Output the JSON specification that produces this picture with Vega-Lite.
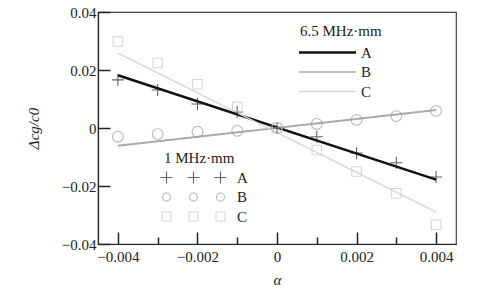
{
  "$schema": "https://vega.github.io/schema/vega-lite/v6.json",
  "width": 358,
  "height": 232,
  "autosize": "none",
  "padding": {"left": 98, "top": 12, "right": 29, "bottom": 50},
  "background": "white",
  "config": {
    "view": {"stroke": "#444", "strokeWidth": 1.2},
    "font": "Liberation Serif",
    "axis": {
      "labelFont": "Liberation Serif",
      "titleFont": "Liberation Serif",
      "labelFontSize": 15,
      "titleFontSize": 15,
      "titleFontWeight": "normal",
      "labelColor": "#222",
      "titleColor": "#222",
      "domainColor": "#222",
      "domainWidth": 1.2,
      "tickColor": "#222",
      "tickWidth": 1.5,
      "grid": false
    },
    "legend": {
      "labelFont": "Liberation Serif",
      "titleFont": "Liberation Serif",
      "labelFontSize": 15,
      "titleFontSize": 15,
      "titleFontWeight": "normal",
      "labelColor": "#222",
      "titleColor": "#222",
      "padding": 0
    }
  },
  "datasets": {
    "pts": [
      {"alpha": -0.004, "value": 0.0166, "series": "A"},
      {"alpha": -0.003, "value": 0.0131, "series": "A"},
      {"alpha": -0.002, "value": 0.0083, "series": "A"},
      {"alpha": -0.001, "value": 0.0055, "series": "A"},
      {"alpha": 0.0, "value": 0.0, "series": "A"},
      {"alpha": 0.001, "value": -0.003, "series": "A"},
      {"alpha": 0.002, "value": -0.0086, "series": "A"},
      {"alpha": 0.003, "value": -0.012, "series": "A"},
      {"alpha": 0.004, "value": -0.0169, "series": "A"},
      {"alpha": -0.004, "value": -0.003, "series": "B"},
      {"alpha": -0.003, "value": -0.0021, "series": "B"},
      {"alpha": -0.002, "value": -0.0013, "series": "B"},
      {"alpha": -0.001, "value": -0.001, "series": "B"},
      {"alpha": 0.0, "value": 0.0, "series": "B"},
      {"alpha": 0.001, "value": 0.0014, "series": "B"},
      {"alpha": 0.002, "value": 0.0028, "series": "B"},
      {"alpha": 0.003, "value": 0.0041, "series": "B"},
      {"alpha": 0.004, "value": 0.0059, "series": "B"},
      {"alpha": -0.004, "value": 0.0298, "series": "C"},
      {"alpha": -0.003, "value": 0.0224, "series": "C"},
      {"alpha": -0.002, "value": 0.0151, "series": "C"},
      {"alpha": -0.001, "value": 0.0073, "series": "C"},
      {"alpha": 0.0, "value": 0.0, "series": "C"},
      {"alpha": 0.001, "value": -0.0076, "series": "C"},
      {"alpha": 0.002, "value": -0.015, "series": "C"},
      {"alpha": 0.003, "value": -0.0225, "series": "C"},
      {"alpha": 0.004, "value": -0.0334, "series": "C"}
    ],
    "fits": [
      {"alpha": -0.004, "value": 0.0182, "series": "A"},
      {"alpha": 0.004, "value": -0.0178, "series": "A"},
      {"alpha": -0.004, "value": -0.0061, "series": "B"},
      {"alpha": 0.004, "value": 0.0062, "series": "B"},
      {"alpha": -0.004, "value": 0.0258, "series": "C"},
      {"alpha": 0.004, "value": -0.029, "series": "C"}
    ],
    "none": []
  },
  "resolve": {
    "scale": {"color": "independent", "shape": "independent"},
    "legend": {"color": "independent", "shape": "independent"}
  },
  "layer": [
    {
      "mark": {"type": "rule", "color": "#555", "strokeWidth": 1.2},
      "encoding": {"x": {"datum": 0, "type": "quantitative"}}
    },
    {
      "mark": {"type": "rule", "color": "#111", "strokeWidth": 1.5},
      "encoding": {"y": {"datum": 0, "type": "quantitative"}}
    },
    {
      "data": {"name": "fits"},
      "mark": {"type": "line"},
      "encoding": {
        "x": {
          "field": "alpha",
          "type": "quantitative",
          "scale": {"domain": [-0.0045, 0.0045], "nice": false, "zero": false},
          "axis": {
            "title": "α",
            "titleFontStyle": "italic",
            "titlePadding": 8,
            "values": [-0.004, -0.003, -0.002, -0.001, 0, 0.001, 0.002, 0.003, 0.004],
            "format": ".3~f",
            "labelExpr": "abs(round(datum.value*1000)) % 2 == 0 ? datum.label : ''",
            "tickSize": {"condition": {"test": "abs(round(datum.value*1000)) % 2 == 0", "value": -12}, "value": -7},
            "labelPadding": 17,
            "labelFlush": false
          }
        },
        "y": {
          "field": "value",
          "type": "quantitative",
          "scale": {"domain": [-0.04, 0.04], "nice": false},
          "axis": {
            "title": "Δcg/c0",
            "titleFontStyle": "italic",
            "titlePadding": 20,
            "values": [-0.04, -0.03, -0.02, -0.01, 0, 0.01, 0.02, 0.03, 0.04],
            "format": ".2~f",
            "labelExpr": "abs(round(datum.value*100)) % 2 == 0 ? datum.label : ''",
            "tickSize": {"condition": {"test": "abs(round(datum.value*100)) % 2 == 0", "value": -12}, "value": -7},
            "labelPadding": 14,
            "labelFlush": false
          }
        },
        "color": {
          "field": "series",
          "type": "nominal",
          "scale": {"range": ["#111111", "#aaaaaa", "#d6d6d6"]},
          "legend": {
            "title": "6.5 MHz·mm",
            "orient": "none",
            "legendX": 202,
            "legendY": 12,
            "symbolType": "M-5.7,0H5.7",
            "symbolSize": 100,
            "symbolOffset": 20,
            "symbolStrokeWidth": 1.5,
            "labelOffset": 26,
            "rowPadding": 3.5,
            "titlePadding": 6,
            "encode": {"symbols": {"update": {"strokeWidth": {"signal": "datum.value === 'A' ? 2.5 : 1.5"}}}}
          }
        },
        "strokeWidth": {
          "field": "series",
          "type": "ordinal",
          "scale": {"range": [2.5, 1.5, 1.5]},
          "legend": null
        }
      }
    },
    {
      "data": {"name": "pts"},
      "mark": {"type": "point", "filled": false, "strokeWidth": 1.1},
      "encoding": {
        "x": {"field": "alpha", "type": "quantitative"},
        "y": {"field": "value", "type": "quantitative"},
        "shape": {
          "field": "series",
          "type": "nominal",
          "scale": {"range": ["M-1,0H1M0,-1V1", "circle", "square"]},
          "legend": null
        },
        "color": {
          "field": "series",
          "type": "nominal",
          "scale": {"range": ["#222222", "#9a9a9a", "#c8c8c8"]},
          "legend": null
        },
        "size": {
          "field": "series",
          "type": "ordinal",
          "scale": {"range": [144, 90, 81]},
          "legend": null
        }
      }
    },
    {
      "data": {"name": "none"},
      "mark": {"type": "point", "filled": false, "strokeWidth": 1.1},
      "encoding": {
        "x": {"field": "alpha", "type": "quantitative"},
        "y": {"field": "value", "type": "quantitative"},
        "shape": {
          "field": "series",
          "type": "nominal",
          "scale": {
            "domain": ["A", "B", "C"],
            "range": [
              "M-6.6,0H-4.2M-5.4,-1.2V1.2M-1.2,0H1.2M0,-1.2V1.2M4.2,0H6.6M5.4,-1.2V1.2",
              "M-6.2,0A0.8,0.8 0 1,0 -4.6,0A0.8,0.8 0 1,0 -6.2,0M-0.8,0A0.8,0.8 0 1,0 0.8,0A0.8,0.8 0 1,0 -0.8,0M4.6,0A0.8,0.8 0 1,0 6.2,0A0.8,0.8 0 1,0 4.6,0",
              "M-6.3,-0.9H-4.5V0.9H-6.3ZM-0.9,-0.9H0.9V0.9H-0.9ZM4.5,-0.9H6.3V0.9H4.5Z"
            ]
          },
          "legend": {
            "title": "1 MHz·mm",
            "orient": "none",
            "legendX": 66,
            "legendY": 139,
            "symbolSize": 100,
            "symbolOffset": 22,
            "symbolStrokeWidth": 1.1,
            "symbolFillColor": "transparent",
            "labelOffset": 36,
            "rowPadding": 3.5,
            "titlePadding": 4
          }
        },
        "color": {
          "field": "series",
          "type": "nominal",
          "scale": {"domain": ["A", "B", "C"], "range": ["#222222", "#9a9a9a", "#c8c8c8"]},
          "legend": {
            "title": "1 MHz·mm",
            "orient": "none",
            "legendX": 66,
            "legendY": 139,
            "symbolSize": 100,
            "symbolOffset": 22,
            "symbolStrokeWidth": 1.1,
            "symbolFillColor": "transparent",
            "labelOffset": 36,
            "rowPadding": 3.5,
            "titlePadding": 4
          }
        }
      }
    }
  ]
}
